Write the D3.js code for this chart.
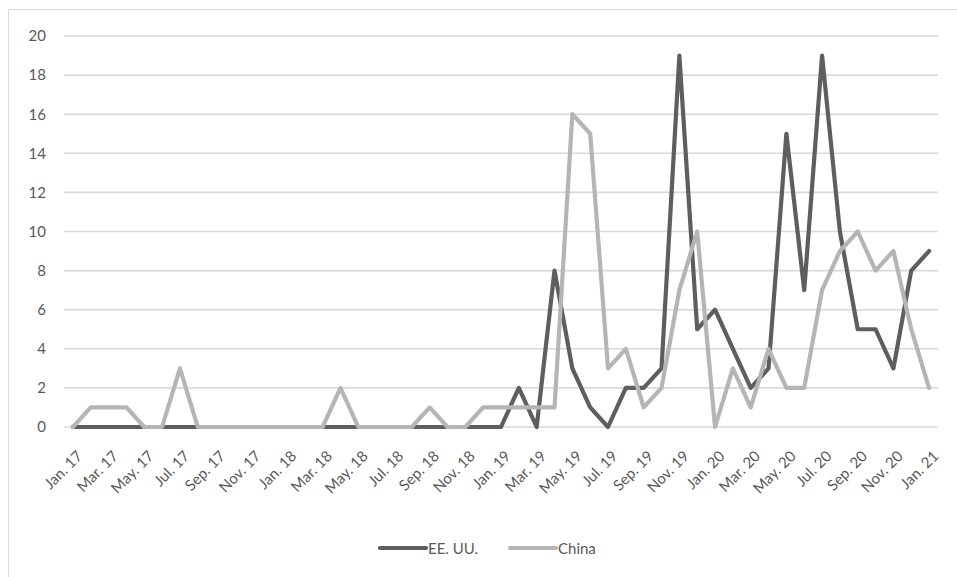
<!DOCTYPE html>
<html>
<head>
<meta charset="utf-8">
<script src="https://cdn.jsdelivr.net/npm/d3@7/dist/d3.min.js"></script>
<style>
  html, body { margin: 0; padding: 0; background: #fff; }
  svg { display: block; font-family: "Lato", "Open Sans", sans-serif; }
</style>
</head>
<body>
<svg id="chart" width="957" height="577"></svg>
<script>
// Monthly counts, Jan. 2017 – Jan. 2021
const monthNames = ["Jan.", "Feb.", "Mar.", "Apr.", "May.", "Jun.", "Jul.", "Aug.", "Sep.", "Oct.", "Nov.", "Dec."];
const months = [];
for (let y = 17; y <= 21; y++) {
  for (let m = 0; m < 12; m++) {
    if (y === 21 && m > 0) break;
    months.push(monthNames[m] + " " + y);
  }
}

const usValues = [
  0, 0, 0, 0, 0, 0, 0, 0, 0, 0, 0, 0,
  0, 0, 0, 0, 0, 0, 0, 0, 0, 0, 0, 0,
  0, 2, 0, 8, 3, 1, 0, 2, 2, 3, 19, 5,
  6, 4, 2, 3, 15, 7, 19, 10, 5, 5, 3, 8,
  9
];
const chinaValues = [
  0, 1, 1, 1, 0, 0, 3, 0, 0, 0, 0, 0,
  0, 0, 0, 2, 0, 0, 0, 0, 1, 0, 0, 1,
  1, 1, 1, 1, 16, 15, 3, 4, 1, 2, 7, 10,
  0, 3, 1, 4, 2, 2, 7, 9, 10, 8, 9, 5,
  2
];
const yTicks = [0, 2, 4, 6, 8, 10, 12, 14, 16, 18, 20];
const seriesNames = ["EE. UU.", "China"];
const seriesColors = ["#5e5e5e", "#b5b5b5"];

const svg = d3.select("#chart");
const margin = { left: 64, right: 19, top: 36, bottom: 151 };
const W = 957, H = 577;

// chart frame
svg.append("rect")
  .attr("x", 8.5).attr("y", 9.5)
  .attr("width", 1000).attr("height", 1000)
  .attr("fill", "none").attr("stroke", "#d9d9d9").attr("stroke-width", 1);

const x = d3.scalePoint()
  .domain(months)
  .range([margin.left, W - margin.right])
  .padding(0.5);

const y = d3.scaleLinear()
  .domain([0, 20])
  .range([H - margin.bottom + 1, margin.top]);

// gridlines
svg.append("g")
  .selectAll("line")
  .data(yTicks)
  .join("line")
  .attr("x1", margin.left).attr("x2", W - margin.right)
  .attr("y1", d => y(d)).attr("y2", d => y(d))
  .attr("stroke", "#d9d9d9").attr("stroke-width", 1.6);

// y axis labels
const yAxis = d3.axisLeft(y).tickValues(yTicks).tickSize(0).tickPadding(18);
const yg = svg.append("g").attr("transform", `translate(${margin.left},0)`).call(yAxis);
yg.select(".domain").remove();
yg.selectAll("text")
  .attr("fill", "#595959")
  .style("font-size", "15px")
  .style("font-family", "Lato, 'Open Sans', sans-serif");

// x axis labels every two months, rotated
const xAxis = d3.axisBottom(x)
  .tickValues(months.filter((d, i) => i % 2 === 0))
  .tickSize(0);
const xg = svg.append("g").attr("transform", `translate(0,${y(0)})`).call(xAxis);
xg.select(".domain").remove();
xg.selectAll("text")
  .attr("fill", "#595959")
  .style("font-size", "15px")
  .style("font-family", "Lato, 'Open Sans', sans-serif")
  .attr("text-anchor", "end")
  .attr("dy", "0")
  .attr("y", 0)
  .attr("transform", "translate(10,30) rotate(-45)");

// series lines; China drawn last so it sits on top
const line = d3.line()
  .x((d, i) => x(months[i]))
  .y(d => y(d));

const series = [usValues, chinaValues];
[0, 1].forEach(k => {
  svg.append("path")
    .datum(series[k])
    .attr("d", line)
    .attr("fill", "none")
    .attr("stroke", seriesColors[k])
    .attr("stroke-width", 4.2)
    .attr("stroke-linejoin", "round")
    .attr("stroke-linecap", "round");
});

// legend
const legend = svg.append("g").attr("transform", "translate(378,548)");
const legendX = [0, 130];
seriesNames.forEach((name, k) => {
  const g = legend.append("g").attr("transform", `translate(${legendX[k]},0)`);
  g.append("line")
    .attr("x1", 2).attr("x2", 48).attr("y1", 0).attr("y2", 0)
    .attr("stroke", seriesColors[k]).attr("stroke-width", 4.2)
    .attr("stroke-linecap", "round");
  g.append("text")
    .attr("x", 50).attr("y", 5.5)
    .attr("fill", "#595959")
    .style("font-size", "15px")
    .text(name);
});
</script>
</body>
</html>
